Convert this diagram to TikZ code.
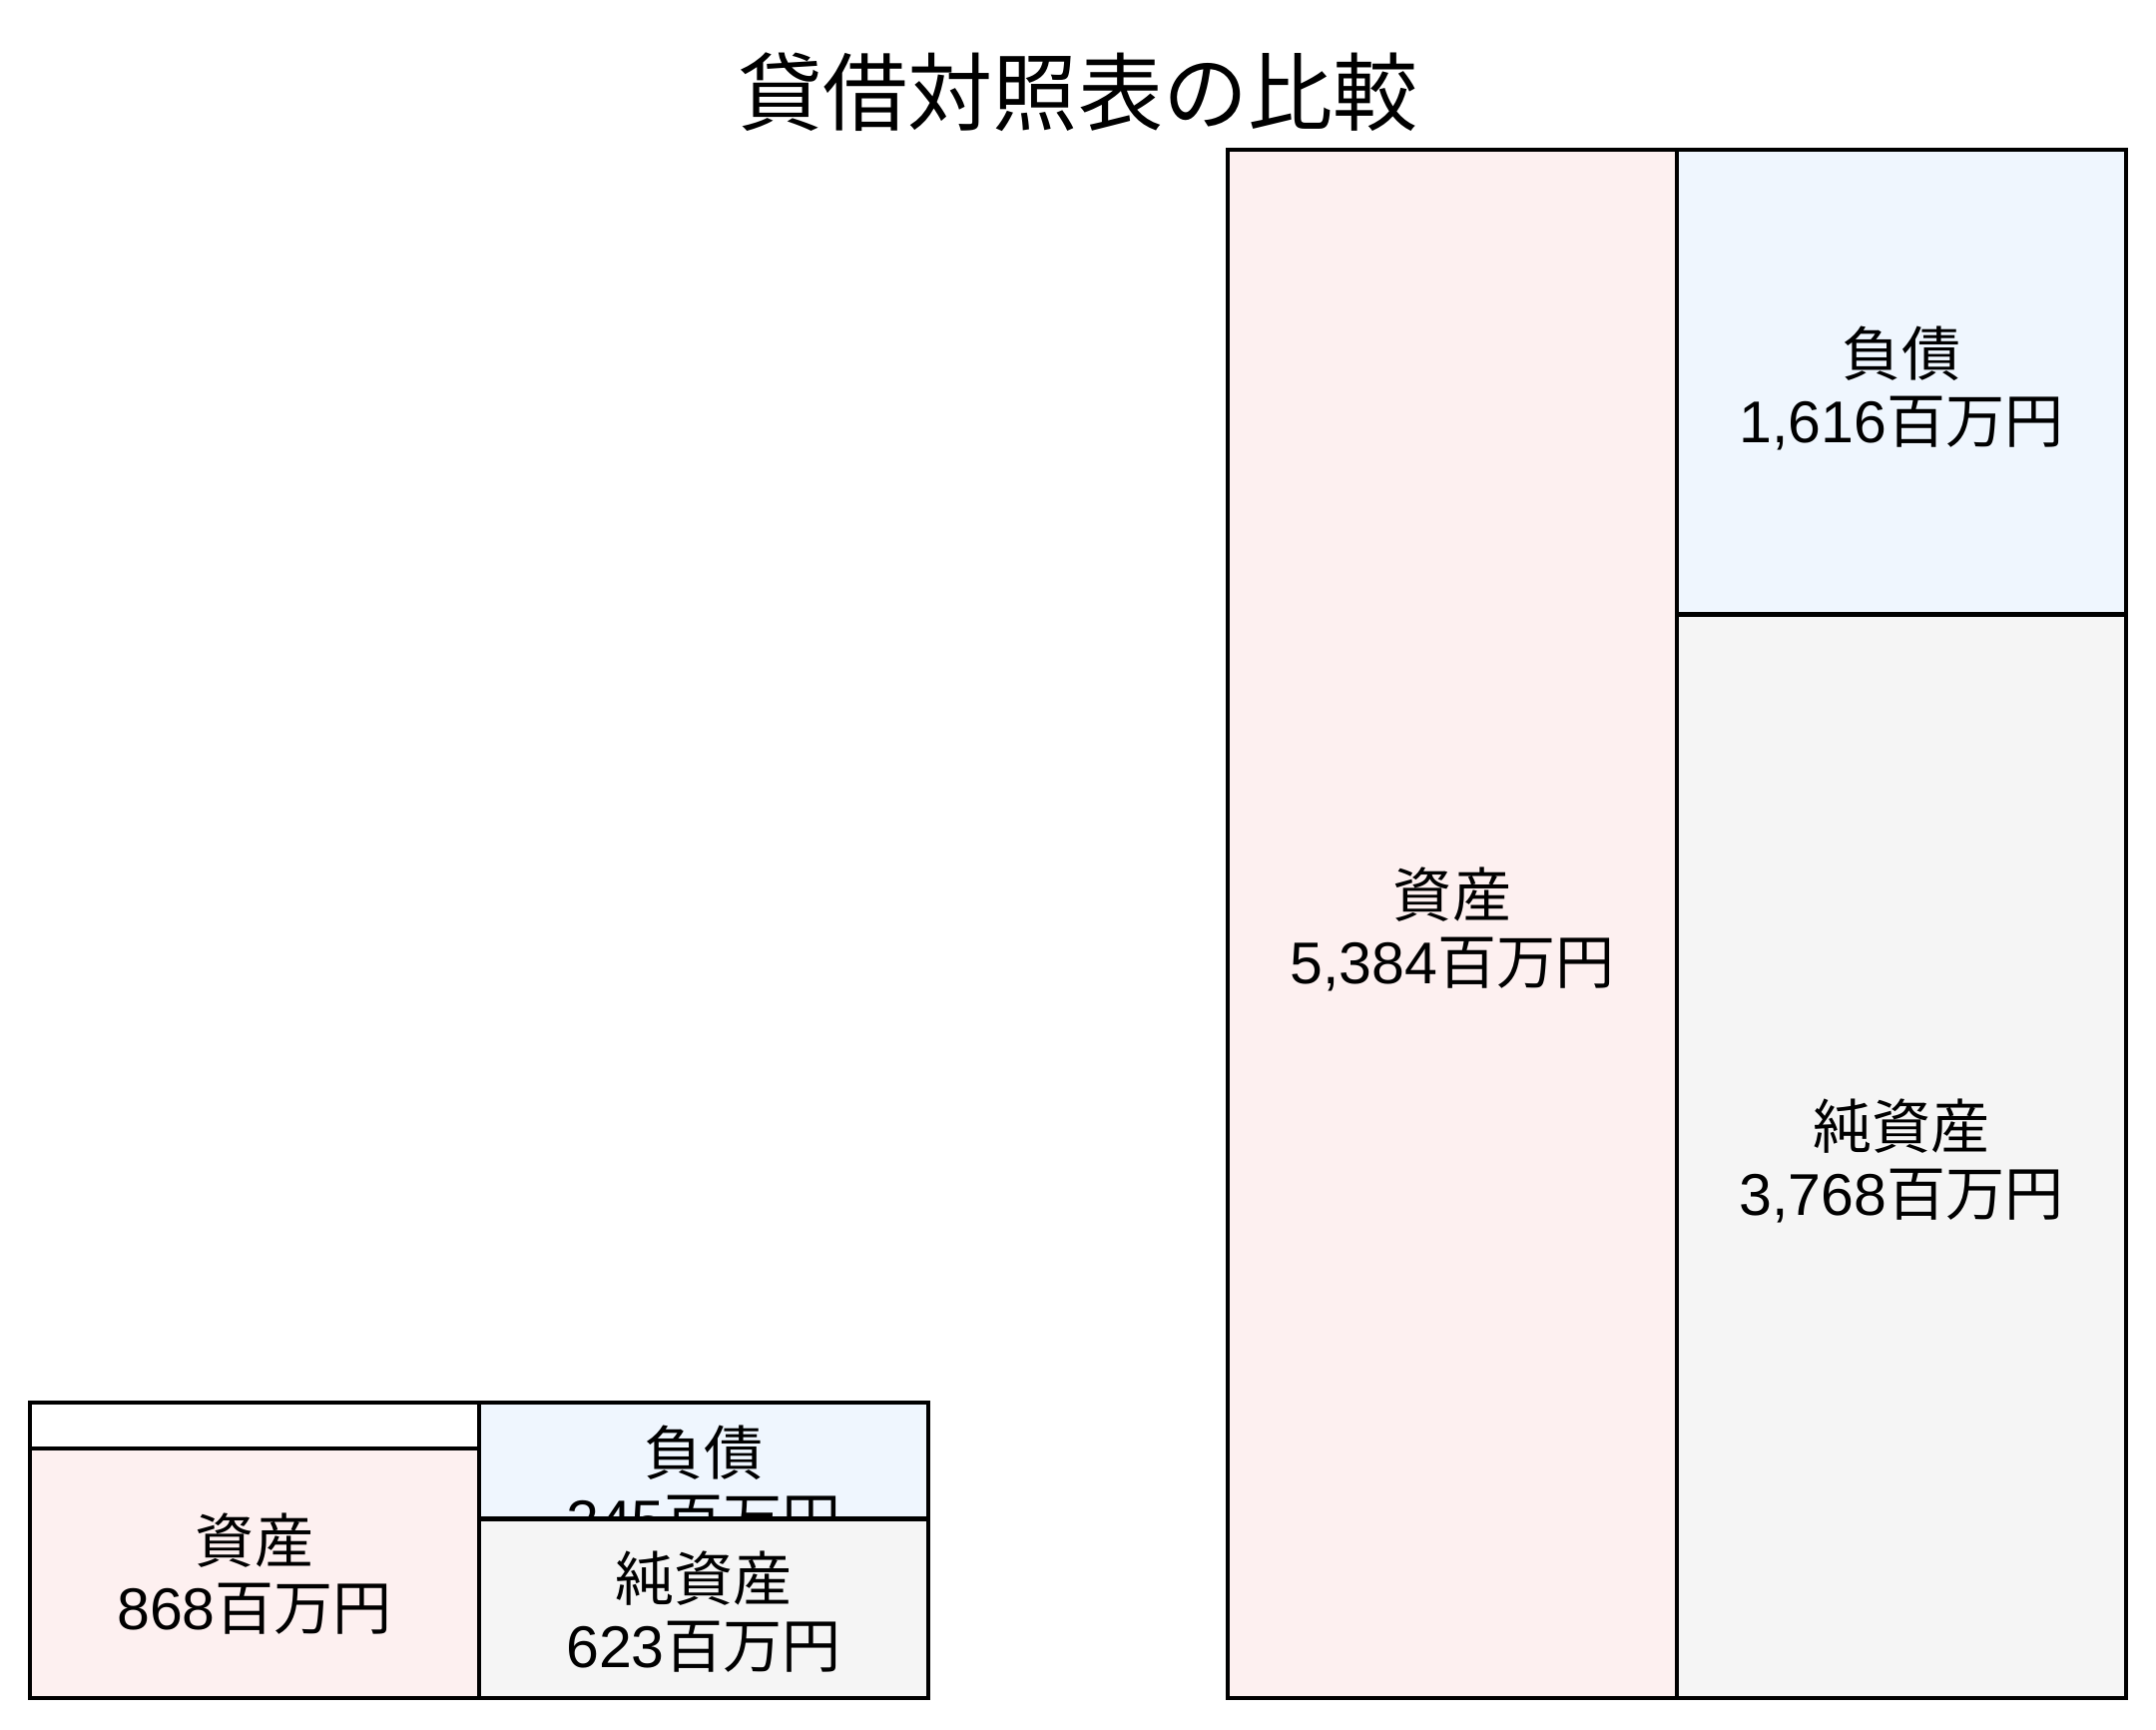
\documentclass[tikz,border=0pt]{standalone}
\usepackage{fontspec}
\setmainfont{Noto Sans CJK JP}
\newfontfamily\numfont{Liberation Sans}
\usepackage{tikz}
\usetikzlibrary{positioning}

\definecolor{assetfill}{HTML}{FDF0F0}
\definecolor{debtfill}{HTML}{EFF6FE}
\definecolor{netfill}{HTML}{F5F5F5}

\tikzset{
  bsbox/.style={draw=black, line width=1.15pt},
  bslabel/.style={align=center, font=\fontsize{16.8}{19}\selectfont},
  bstitle/.style={font=\fontsize{24.2}{28}\selectfont}
}

\begin{document}
\begin{tikzpicture}
  \useasboundingbox[fill=white] (0,0) rectangle (21.6,17.32);
  \node[bstitle] (title) at (10.8,16.40) {貸借対照表の比較};

  % left balance sheet
  \draw[bsbox, fill=white] (0.30,0.31) rectangle (4.80,3.27);
  \draw[bsbox, fill=assetfill] (0.30,0.31) rectangle (4.80,2.81);
  \node[bslabel] (lasset) at (2.55,1.55) {資産\\{\numfont 868}百万円};
  \draw[bsbox, fill=debtfill] (4.80,2.105) rectangle (9.30,3.27);
  \node[bslabel] (ldebt) at (7.05,2.43) {負債\\{\numfont 245}百万円};
  \draw[bsbox, fill=netfill] (4.80,0.31) rectangle (9.30,2.105);
  \node[bslabel] (lnet) at (7.05,1.17) {純資産\\{\numfont 623}百万円};

  % right balance sheet
  \draw[bsbox, fill=assetfill] (12.30,0.31) rectangle (16.80,15.82);
  \node[bslabel] (rasset) at (14.55,8.01) {資産\\{\numfont 5,384}百万円};
  \draw[bsbox, fill=debtfill] (16.80,11.165) rectangle (21.30,15.82);
  \node[bslabel] (rdebt) at (19.05,13.43) {負債\\{\numfont 1,616}百万円};
  \draw[bsbox, fill=netfill] (16.80,0.31) rectangle (21.30,11.165);
  \node[bslabel] (rnet) at (19.05,5.69) {純資産\\{\numfont 3,768}百万円};
\end{tikzpicture}
\end{document}
